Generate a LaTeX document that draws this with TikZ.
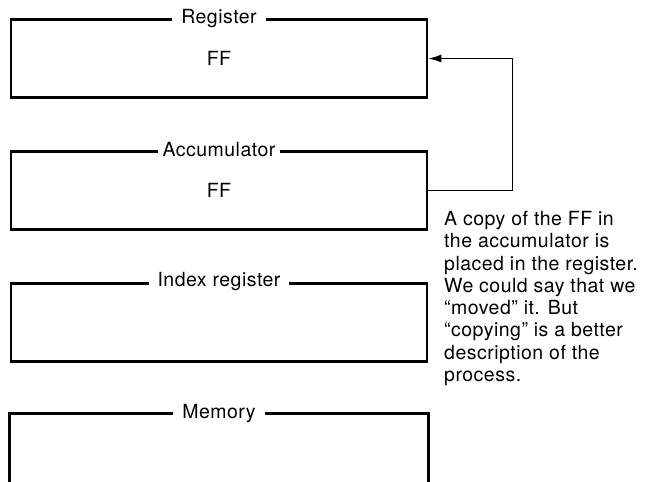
\documentclass[tikz,border=0pt]{standalone}
\usepackage{fontspec}
\setmainfont[LetterSpace=2.5]{TeX Gyre Heros}
\usetikzlibrary{arrows.meta, positioning}

\begin{document}
\begin{tikzpicture}[x=1pt, y=-1pt, >={Latex[length=13pt,width=8pt]}, font=\fontsize{19.5}{22.3}\selectfont,
        unitbox/.style={draw, line width=2.8pt, minimum width=416pt, minimum height=78pt, inner sep=0pt},
        boxlabel/.style={fill=white, inner xsep=9pt, inner ysep=1pt},
        flow/.style={->, line width=1.2pt}]
        \clip (0,0) rectangle (646,482);

        \node [unitbox] (reg) at (219,58.5) {FF};
        \node [unitbox, below=51pt of reg] (acc) {FF};
        \node [unitbox, below=51pt of acc] (idx) {};
        \node [unitbox, draw=none, below=51pt of idx] (mem) {};

        % memory runs off the bottom of the page
        \draw [line width=2.8pt] (mem.south west) -- (mem.north west) -- (mem.north east) -- (mem.south east);

        \node [boxlabel] (reglabel) at (reg.north) {Register};
        \node [boxlabel, inner xsep=5pt] (acclabel) at (acc.north) {Accumulator};
        \node [boxlabel] (idxlabel) at (idx.north) {Index register};
        \node [boxlabel] (memlabel) at (mem.north) {Memory};

        % copy goes back up into the register
        \draw [flow] (acc.east) -- ++(84,0) |- (reg.east);

        \node [anchor=north west, align=left, inner sep=0pt] (note) at (444,211) {A copy of the FF in\\ the accumulator is\\ placed in the register.\\ We could say that we\\ “moved” it. But\\ “copying” is a better\\ description of the\\ process.};
    \end{tikzpicture}
\end{document}
